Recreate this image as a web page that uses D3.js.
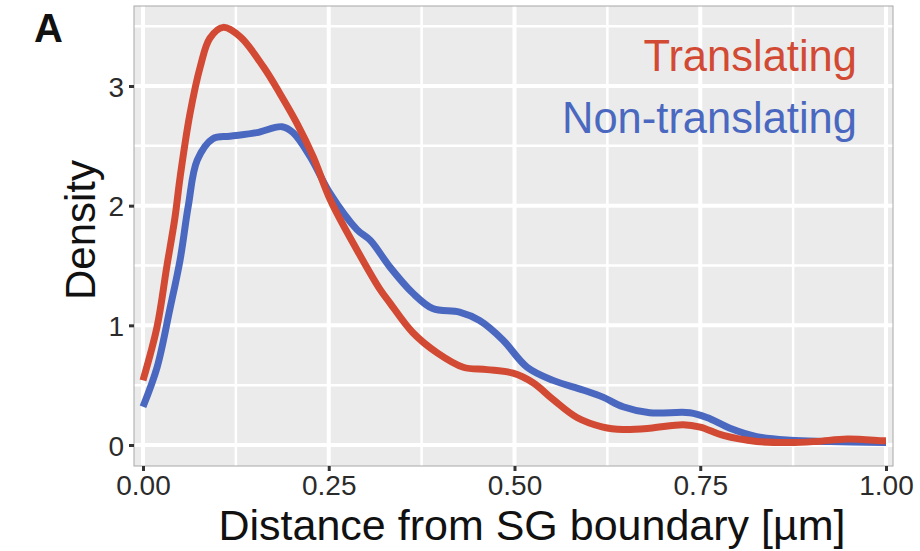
<!DOCTYPE html>
<html>
<head>
<meta charset="utf-8">
<script src="https://cdn.jsdelivr.net/npm/d3@7"></script>
<style>
  html, body { margin: 0; padding: 0; background: #fff; }
  svg { display: block; font-family: "Liberation Sans", Arial, Helvetica, sans-serif; }
</style>
</head>
<body>
<svg id="chart" width="920" height="551"></svg>
<script>
// Density of distance from stress-granule boundary, two groups
const seriesNames = ["Translating", "Non-translating"];
const seriesColors = ["#D24A33", "#4A68C0"];

const translatingX = [0.000, 0.019, 0.032, 0.043, 0.050, 0.063, 0.077, 0.090, 0.108, 0.131, 0.162, 0.184, 0.207, 0.229, 0.252, 0.288, 0.319, 0.332, 0.363, 0.396, 0.431, 0.463, 0.498, 0.525, 0.552, 0.584, 0.619, 0.646, 0.682, 0.727, 0.750, 0.781, 0.826, 0.871, 0.907, 0.948, 0.996, 1.000];
const translatingY = [0.54, 0.99, 1.49, 1.90, 2.24, 2.76, 3.16, 3.40, 3.49, 3.41, 3.16, 2.94, 2.69, 2.41, 2.05, 1.63, 1.30, 1.19, 0.94, 0.77, 0.65, 0.63, 0.60, 0.52, 0.38, 0.23, 0.15, 0.13, 0.14, 0.17, 0.15, 0.08, 0.03, 0.02, 0.03, 0.05, 0.035, 0.035];

const nonTranslatingX = [0.000, 0.019, 0.036, 0.050, 0.061, 0.073, 0.094, 0.117, 0.153, 0.187, 0.202, 0.225, 0.252, 0.288, 0.306, 0.332, 0.363, 0.390, 0.426, 0.453, 0.484, 0.517, 0.552, 0.592, 0.619, 0.646, 0.682, 0.736, 0.759, 0.790, 0.826, 0.871, 0.924, 0.996, 1.000];
const nonTranslatingY = [0.32, 0.65, 1.13, 1.55, 2.00, 2.38, 2.56, 2.58, 2.61, 2.66, 2.61, 2.41, 2.10, 1.80, 1.71, 1.49, 1.27, 1.14, 1.11, 1.04, 0.88, 0.65, 0.54, 0.46, 0.40, 0.32, 0.27, 0.27, 0.23, 0.14, 0.07, 0.04, 0.03, 0.02, 0.02];

const xTicks = [0, 0.25, 0.5, 0.75, 1.0];
const xMinor = [0.125, 0.375, 0.625, 0.875];
const yTicks = [0, 1, 2, 3];
const yMinor = [0.5, 1.5, 2.5, 3.5];

const xTitle = "Distance from SG boundary [µm]";
const yTitle = "Density";
const panelLabel = "A";

const svg = d3.select("#chart");
const panel = { left: 134, right: 893, top: 6, bottom: 466 };

const x = d3.scaleLinear().domain([0, 1]).range([143, 886]);
const y = d3.scaleLinear().domain([0, 3]).range([445, 86]);

// Panel background
svg.append("rect")
  .attr("x", panel.left).attr("y", panel.top)
  .attr("width", panel.right - panel.left).attr("height", panel.bottom - panel.top)
  .attr("fill", "#EBEBEB");

const grid = svg.append("g");
// minor grid
grid.selectAll(".vminor").data(xMinor).join("line")
  .attr("x1", d => x(d)).attr("x2", d => x(d))
  .attr("y1", panel.top).attr("y2", panel.bottom)
  .attr("stroke", "#fff").attr("stroke-width", 2.5);
grid.selectAll(".hminor").data(yMinor).join("line")
  .attr("x1", panel.left).attr("x2", panel.right)
  .attr("y1", d => y(d)).attr("y2", d => y(d))
  .attr("stroke", "#fff").attr("stroke-width", 2.5);
// major grid
grid.selectAll(".vmajor").data(xTicks).join("line")
  .attr("x1", d => x(d)).attr("x2", d => x(d))
  .attr("y1", panel.top).attr("y2", panel.bottom)
  .attr("stroke", "#fff").attr("stroke-width", 4);
grid.selectAll(".hmajor").data(yTicks).join("line")
  .attr("x1", panel.left).attr("x2", panel.right)
  .attr("y1", d => y(d)).attr("y2", d => y(d))
  .attr("stroke", "#fff").attr("stroke-width", 4);

// Density curves
const line = d3.line()
  .x(d => x(d[0])).y(d => y(d[1]))
  .curve(d3.curveCatmullRom.alpha(0.5));

const series = [
  d3.zip(translatingX, translatingY),
  d3.zip(nonTranslatingX, nonTranslatingY)
];
// Non-translating drawn first so the translating curve sits on top at the peak
svg.append("path").datum(series[1])
  .attr("d", line).attr("fill", "none")
  .attr("stroke", seriesColors[1]).attr("stroke-width", 7)
  .attr("stroke-linejoin", "round");
svg.append("path").datum(series[0])
  .attr("d", line).attr("fill", "none")
  .attr("stroke", seriesColors[0]).attr("stroke-width", 7)
  .attr("stroke-linejoin", "round");

// Panel border
svg.append("rect")
  .attr("x", panel.left).attr("y", panel.top)
  .attr("width", panel.right - panel.left).attr("height", panel.bottom - panel.top)
  .attr("fill", "none").attr("stroke", "#A8A8A8").attr("stroke-width", 1);

// Axes
const xAxis = svg.append("g")
  .attr("transform", `translate(0,${panel.bottom})`)
  .call(d3.axisBottom(x).tickValues(xTicks).tickFormat(d3.format(".2f")).tickSize(5).tickPadding(4));
const yAxis = svg.append("g")
  .attr("transform", `translate(${panel.left},0)`)
  .call(d3.axisLeft(y).tickValues(yTicks).tickFormat(d3.format("d")).tickSize(5).tickPadding(5));

[xAxis, yAxis].forEach(a => {
  a.select(".domain").remove();
  a.selectAll(".tick line").attr("stroke", "#333").attr("stroke-width", 3);
  a.selectAll(".tick text")
    .attr("fill", "#2B2B2B")
    .style("font-size", "28px")
    .style("font-family", "'Liberation Sans', Arial, sans-serif");
});
yAxis.selectAll(".tick text").attr("dy", "0.36em");

// Axis titles
svg.append("text")
  .attr("x", 532).attr("y", 540)
  .attr("text-anchor", "middle")
  .attr("fill", "#111")
  .style("font-size", "43px")
  .text(xTitle);

svg.append("text")
  .attr("transform", `translate(95,230) rotate(-90)`)
  .attr("text-anchor", "middle")
  .attr("fill", "#111")
  .style("font-size", "42px")
  .text(yTitle);

// Legend labels in series colour
const legendY = [71, 133];
seriesNames.forEach((name, i) => {
  svg.append("text")
    .attr("x", 857).attr("y", legendY[i])
    .attr("text-anchor", "end")
    .attr("fill", seriesColors[i])
    .style("font-size", "43.5px")
    .text(name);
});

// Panel tag
svg.append("text")
  .attr("x", 34).attr("y", 42)
  .attr("fill", "#111")
  .style("font-size", "40px")
  .style("font-weight", "bold")
  .text(panelLabel);
</script>
</body>
</html>
